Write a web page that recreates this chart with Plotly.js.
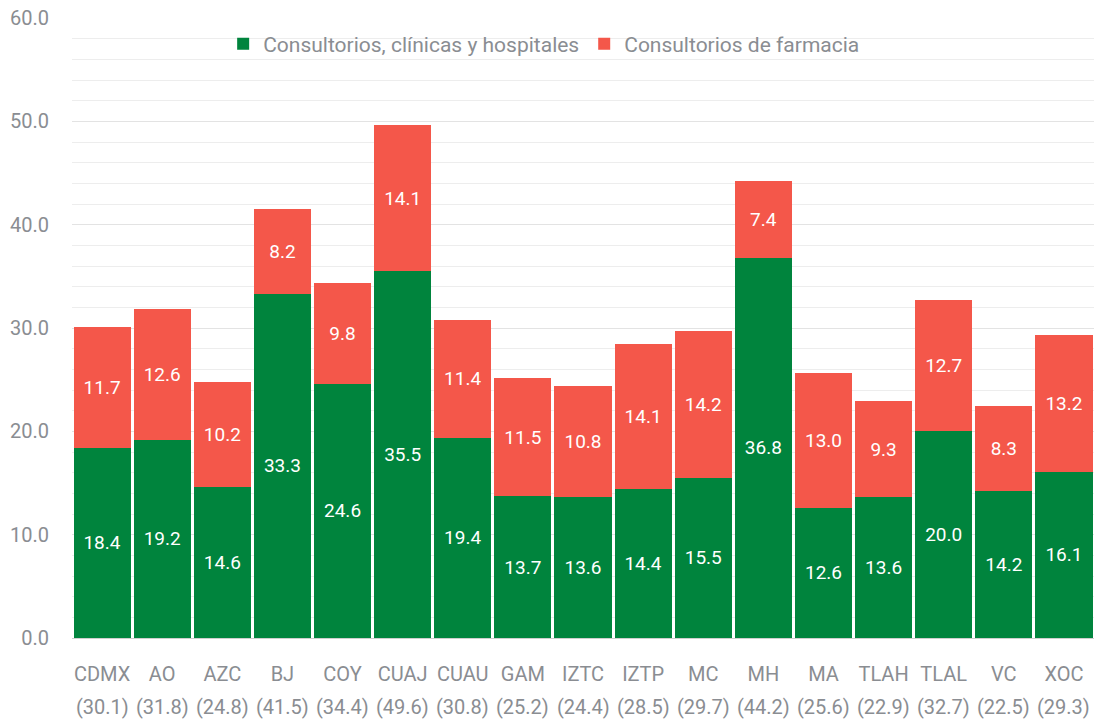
<!DOCTYPE html>
<html><head><meta charset="utf-8">
<script src="https://cdn.plot.ly/plotly-3.0.1.min.js"></script>
<style>html,body{margin:0;padding:0;background:#fff}#chart{width:1096px;height:722px}</style>
</head><body><div id="chart"></div>
<script>
const categories = ["CDMX","AO","AZC","BJ","COY","CUAJ","CUAU","GAM","IZTC","IZTP","MC","MH","MA","TLAH","TLAL","VC","XOC"];
const totals = [30.1,31.8,24.8,41.5,34.4,49.6,30.8,25.2,24.4,28.5,29.7,44.2,25.6,22.9,32.7,22.5,29.3];
const clinicas = [18.4,19.2,14.6,33.3,24.6,35.5,19.4,13.7,13.6,14.4,15.5,36.8,12.6,13.6,20.0,14.2,16.1];
const farmacia = [11.7,12.6,10.2,8.2,9.8,14.1,11.4,11.5,10.8,14.1,14.2,7.4,13.0,9.3,12.7,8.3,13.2];
const seriesNames = ["Consultorios, clínicas y hospitales","Consultorios de farmacia"];

const font = "Roboto, sans-serif";
const grey = "#8a8d92";
const common = {type:"bar", texttemplate:"%{y:.1f}", textposition:"inside", insidetextanchor:"middle",
  textfont:{color:"#ffffff", size:19, family:font}, hoverinfo:"skip"};
const data = [
  Object.assign({}, common, {x:categories, y:clinicas, name:seriesNames[0], marker:{color:"#00843D"}}),
  Object.assign({}, common, {x:categories, y:farmacia, name:seriesNames[1], marker:{color:"#F4574A"}})
];
const annotations = categories.map((c,i)=>({x:c, xref:"x", y:0, yref:"paper", yanchor:"middle",
  yshift:-69, showarrow:false, text:"("+totals[i].toFixed(1)+")", font:{size:20, color:grey, family:font}}));
const layout = {
  width:1096, height:722, barmode:"stack", bargap:0.05,
  margin:{l:72, r:2, t:18, b:84},
  paper_bgcolor:"#fff", plot_bgcolor:"#fff",
  font:{family:font, color:grey, size:20},
  showlegend:true,
  legend:{orientation:"h", x:0.462, xanchor:"center", y:0.958, yanchor:"middle",
    bgcolor:"rgba(0,0,0,0)", font:{size:21, color:grey}, traceorder:"normal", itemwidth:30},
  annotations:annotations,
  xaxis:{type:"category", showgrid:false, ticks:"", ticklabelstandoff:22, tickfont:{size:20, color:grey}},
  yaxis:{range:[0,60], dtick:10, tickformat:".1f", showgrid:true, gridcolor:"#e3e3e3",
    zeroline:true, zerolinecolor:"#cfcfcf", zerolinewidth:1,
    minor:{dtick:2, showgrid:true, gridcolor:"#ededed"},
    ticks:"", ticklabelstandoff:22, tickfont:{size:20, color:grey}}
};
Plotly.newPlot("chart", data, layout, {displayModeBar:false, staticPlot:true});
</script></body></html>
